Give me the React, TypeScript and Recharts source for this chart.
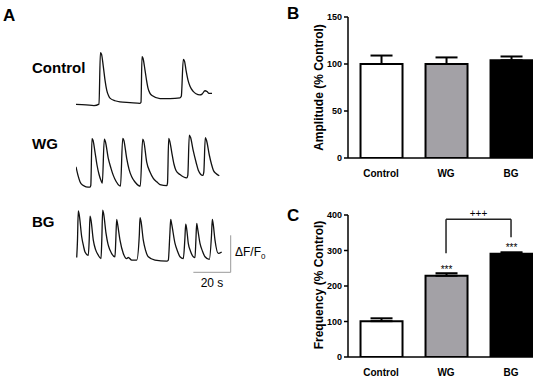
import React from 'react';
import { LineChart, Line, XAxis, YAxis, BarChart, Bar, Cell, ErrorBar, LabelList, ReferenceLine } from 'recharts';

const FONT = '"Liberation Sans", Arial, Helvetica, sans-serif';

// Panel A traces: time (s) vs ΔF/F0 (scale bar = 20 s, 1 ΔF/F0)
const controlTrace = [
  { t: 0, v: 0.02 }, { t: 5.36, v: 0.01 }, { t: 9.64, v: -0.01 }, { t: 12.32, v: 0.03 },
  { t: 13.07, v: 1.42 }, { t: 13.66, v: 1.38 }, { t: 14.62, v: 1.05 }, { t: 15.54, v: 0.68 },
  { t: 16.45, v: 0.41 }, { t: 17.41, v: 0.26 }, { t: 18.21, v: 0.19 }, { t: 20.89, v: 0.12 },
  { t: 23.57, v: 0.09 }, { t: 28.93, v: 0.07 }, { t: 34.29, v: 0.05 }, { t: 34.82, v: 0.08 },
  { t: 35.36, v: 1.31 }, { t: 35.89, v: 1.27 }, { t: 36.96, v: 0.95 }, { t: 37.77, v: 0.68 },
  { t: 38.57, v: 0.46 }, { t: 39.64, v: 0.32 }, { t: 40.71, v: 0.26 }, { t: 45.0, v: 0.18 },
  { t: 50.36, v: 0.18 }, { t: 55.71, v: 0.2 }, { t: 56.41, v: 0.24 }, { t: 57.48, v: 1.24 },
  { t: 58.13, v: 1.19 }, { t: 58.93, v: 0.95 }, { t: 60.0, v: 0.68 }, { t: 61.07, v: 0.51 },
  { t: 62.68, v: 0.38 }, { t: 64.29, v: 0.31 }, { t: 66.43, v: 0.28 }, { t: 67.5, v: 0.3 },
  { t: 69.11, v: 0.39 }, { t: 70.18, v: 0.37 }, { t: 71.25, v: 0.32 }, { t: 72.86, v: 0.32 },
];

const wgTrace = [
  { t: 0, v: 0.55 }, { t: 1.07, v: 0.32 }, { t: 2.14, v: 0.15 }, { t: 3.75, v: 0.05 },
  { t: 5.36, v: 0.01 }, { t: 7.5, v: 0 }, { t: 7.93, v: 0.05 }, { t: 8.57, v: 1.31 },
  { t: 9.11, v: 1.27 }, { t: 10.18, v: 0.95 }, { t: 11.25, v: 0.6 }, { t: 12.32, v: 0.35 },
  { t: 13.39, v: 0.18 }, { t: 14.09, v: 0.11 }, { t: 15.16, v: 1.3 }, { t: 15.7, v: 1.24 },
  { t: 17.3, v: 0.78 }, { t: 18.75, v: 0.51 }, { t: 19.98, v: 0.32 }, { t: 21.43, v: 0.16 },
  { t: 23.3, v: 0.04 }, { t: 23.84, v: 0.03 }, { t: 25.02, v: 1.32 }, { t: 25.61, v: 1.27 },
  { t: 27.16, v: 0.78 }, { t: 28.39, v: 0.49 }, { t: 29.84, v: 0.28 }, { t: 31.61, v: 0.14 },
  { t: 33.38, v: 0.05 }, { t: 34.45, v: 0.03 }, { t: 35.73, v: 1.3 }, { t: 36.32, v: 1.24 },
  { t: 37.88, v: 0.68 }, { t: 39.64, v: 0.41 }, { t: 41.41, v: 0.24 }, { t: 43.39, v: 0.14 },
  { t: 45.0, v: 0.07 }, { t: 48.59, v: 0.04 }, { t: 49.02, v: 0.11 }, { t: 49.66, v: 1.32 },
  { t: 50.25, v: 1.24 }, { t: 51.27, v: 0.95 }, { t: 52.5, v: 0.62 }, { t: 53.57, v: 0.45 },
  { t: 55.71, v: 0.34 }, { t: 59.3, v: 0.25 }, { t: 59.89, v: 0.32 }, { t: 60.7, v: 1.41 },
  { t: 61.34, v: 1.35 }, { t: 62.84, v: 0.98 }, { t: 64.29, v: 0.68 }, { t: 65.52, v: 0.46 },
  { t: 67.88, v: 0.32 }, { t: 68.47, v: 0.41 }, { t: 69.27, v: 1.34 }, { t: 69.91, v: 1.27 },
  { t: 71.41, v: 0.87 }, { t: 72.59, v: 0.62 }, { t: 73.57, v: 0.46 }, { t: 75.0, v: 0.37 },
  { t: 76.77, v: 0.31 },
];

const bgTrace = [
  { t: 0.38, v: 0.1 }, { t: 0.8, v: 0.57 }, { t: 1.23, v: 1.36 }, { t: 1.77, v: 1.24 },
  { t: 3.05, v: 0.66 }, { t: 4.02, v: 0.41 }, { t: 4.82, v: 0.25 }, { t: 6.59, v: 0.16 },
  { t: 7.07, v: 0.57 }, { t: 7.5, v: 1.22 }, { t: 8.04, v: 1.11 }, { t: 9.27, v: 0.57 },
  { t: 10.45, v: 0.32 }, { t: 11.95, v: 0.16 }, { t: 13.39, v: 0.07 }, { t: 13.82, v: 0.57 },
  { t: 14.3, v: 1.38 }, { t: 14.84, v: 1.27 }, { t: 16.07, v: 0.76 }, { t: 17.14, v: 0.46 },
  { t: 18.21, v: 0.3 }, { t: 20.89, v: 0.12 }, { t: 21.32, v: 0.57 }, { t: 21.8, v: 1.13 },
  { t: 22.29, v: 1.0 }, { t: 23.57, v: 0.57 }, { t: 25.34, v: 0.21 }, { t: 27.16, v: 0.07 },
  { t: 28.02, v: 0.1 }, { t: 29.84, v: 0.03 }, { t: 32.52, v: 0.03 }, { t: 33.91, v: 0.7 },
  { t: 34.29, v: 1.18 }, { t: 34.82, v: 1.08 }, { t: 36.05, v: 0.57 }, { t: 37.23, v: 0.3 },
  { t: 38.73, v: 0.12 }, { t: 42.32, v: 0.03 }, { t: 48.59, v: 0 }, { t: 49.45, v: 0.03 },
  { t: 50.25, v: 0.7 }, { t: 50.73, v: 1.13 }, { t: 51.27, v: 1.0 }, { t: 53.04, v: 0.48 },
  { t: 54.38, v: 0.27 }, { t: 55.71, v: 0.12 }, { t: 57.48, v: 0.07 }, { t: 58.29, v: 0.57 },
  { t: 58.77, v: 1.0 }, { t: 59.25, v: 0.89 }, { t: 60.16, v: 0.48 }, { t: 61.34, v: 0.27 },
  { t: 62.84, v: 0.12 }, { t: 63.75, v: 0.1 }, { t: 64.23, v: 0.57 }, { t: 64.66, v: 1.02 },
  { t: 65.14, v: 0.89 }, { t: 66.43, v: 0.48 }, { t: 67.77, v: 0.27 }, { t: 69.11, v: 0.12 },
  { t: 71.41, v: 0.05 }, { t: 72.59, v: 0.7 }, { t: 73.02, v: 1.13 }, { t: 73.5, v: 1.0 },
  { t: 74.46, v: 0.57 }, { t: 76.23, v: 0.21 }, { t: 78.04, v: 0.25 },
];

const traceNames = ['Control', 'WG', 'BG'];
const scaleBarSeconds = 20;
const scaleBarDff = 1;

// Panels B and C
const categories = ['Control', 'WG', 'BG'];
const amplitudeMean = [100, 100, 104];
const amplitudeSem = [9, 7, 4];
const frequencyMean = [101, 229, 291];
const frequencySem = [8, 7, 4];
const frequencySig = ['', '***', '***'];
const barFills = ['#ffffff', '#a3a1a6', '#000000'];
const amplitudeTicks = [0, 50, 100, 150];
const frequencyTicks = [0, 100, 200, 300, 400];
const bracketLabel = '+++';

const ampData = categories.map((c, i) => ({ idx: i, name: c, mean: amplitudeMean[i], err: [0, amplitudeSem[i]] }));
const freqData = categories.map((c, i) => ({ idx: i, name: c, mean: frequencyMean[i], err: [0, frequencySem[i]], sig: frequencySig[i] }));

const TRACE_W = 168;
const TRACE_H = 74;

function Trace({ data, top, children }: { data: any[]; top: number; children?: React.ReactNode }) {
  return (
    <div style={{ position: 'absolute', left: 76, top, width: TRACE_W, height: TRACE_H }}>
      <LineChart width={TRACE_W} height={TRACE_H} data={data} margin={{ top: 0, right: 0, bottom: 0, left: 0 }}>
        <XAxis type="number" dataKey="t" domain={[0, 90]} hide allowDataOverflow />
        <YAxis type="number" domain={[-0.4, 1.6]} hide allowDataOverflow />
        <Line dataKey="v" type="monotone" stroke="#111" strokeWidth={1.3} dot={false} isAnimationActive={false} />
        {children}
      </LineChart>
    </div>
  );
}

const tickStyle = { fill: '#000', fontSize: 9, fontWeight: 'bold' as const, fontFamily: FONT };
const xTickStyle = { fill: '#000', fontSize: 10, fontWeight: 'bold' as const, fontFamily: FONT };
const axisLine = { stroke: '#000', strokeWidth: 1.5 };

function BarPanel({ data, top, marginTop, marginBottom, domain, ticks, withSig }: any) {
  return (
    <div style={{ position: 'absolute', left: 290, top, width: 260, height: 190 }}>
      <BarChart width={260} height={190} data={data} margin={{ top: marginTop, right: 17, bottom: marginBottom, left: 18 }}>
        <XAxis
          type="number"
          dataKey="idx"
          domain={[-0.508, 2.338]}
          ticks={[0, 1, 2]}
          allowDataOverflow
          tickFormatter={(i: number) => categories[i]}
          axisLine={axisLine}
          tickLine={false}
          tick={xTickStyle}
          tickMargin={6}
          height={20}
        />
        <YAxis
          type="number"
          domain={domain}
          ticks={ticks}
          allowDataOverflow
          width={40}
          axisLine={axisLine}
          tickLine={{ stroke: '#000', strokeWidth: 1.5 }}
          tickSize={4}
          tickMargin={2}
          tick={tickStyle}
        />
        <Bar dataKey="mean" barSize={42} stroke="#000" strokeWidth={2} isAnimationActive={false}>
          {data.map((d: any, i: number) => (
            <Cell key={d.name} fill={barFills[i]} />
          ))}
          <ErrorBar dataKey="err" width={11} stroke="#000" strokeWidth={2} direction="y" />
          {withSig && (
            <LabelList dataKey="sig" position="top" offset={3} style={{ fontSize: 10, fontFamily: FONT, fill: '#000' }} />
          )}
        </Bar>
        {withSig && (
          <ReferenceLine segment={[{ x: 1, y: 292 }, { x: 1, y: 388 }]} stroke="#222" strokeWidth={1.5} />
        )}
        {withSig && (
          <ReferenceLine
            segment={[{ x: 1, y: 388 }, { x: 2, y: 388 }]}
            stroke="#222"
            strokeWidth={1.5}
            label={{ value: bracketLabel, position: 'top', offset: 2, fontSize: 10, fontFamily: FONT, fill: '#000' }}
          />
        )}
        {withSig && (
          <ReferenceLine segment={[{ x: 2, y: 388 }, { x: 2, y: 337 }]} stroke="#222" strokeWidth={1.5} />
        )}
      </BarChart>
    </div>
  );
}

export default function App() {
  const sbStart = 82.87 - scaleBarSeconds;
  return (
    <div style={{ position: 'absolute', left: 0, top: 0, width: 550, height: 380, background: '#fff', fontFamily: FONT, overflow: 'hidden' }}>
      <Trace data={controlTrace} top={45.8} />
      <Trace data={wgTrace} top={127.8} />
      <Trace data={bgTrace} top={201.8}>
        <ReferenceLine segment={[{ x: sbStart, y: -0.3 }, { x: 82.87, y: -0.3 }]} stroke="#999" strokeWidth={1} />
        <ReferenceLine segment={[{ x: 82.87, y: -0.3 }, { x: 82.87, y: -0.3 + scaleBarDff }]} stroke="#999" strokeWidth={1} />
      </Trace>

      <BarPanel data={ampData} top={0} marginTop={17} marginBottom={12} domain={[0, 150]} ticks={amplitudeTicks} withSig={false} />
      <BarPanel data={freqData} top={190} marginTop={25} marginBottom={3} domain={[0, 400]} ticks={frequencyTicks} withSig={true} />

      <svg width={550} height={380} style={{ position: 'absolute', left: 0, top: 0, pointerEvents: 'none' }}>
        <g fontFamily={FONT} fill="#000">
          <text x={3} y={20.5} fontSize={17} fontWeight="bold">A</text>
          <text x={287} y={18.5} fontSize={17} fontWeight="bold">B</text>
          <text x={287} y={220.5} fontSize={17} fontWeight="bold">C</text>
          <text x={32} y={72.7} fontSize={15} fontWeight="bold">{traceNames[0]}</text>
          <text x={32} y={149} fontSize={15} fontWeight="bold">{traceNames[1]}</text>
          <text x={32} y={226.7} fontSize={15} fontWeight="bold">{traceNames[2]}</text>
          <text x={235} y={256} fontSize={12}>
            ΔF/F<tspan fontSize={8} dy={2.5}>0</tspan>
          </text>
          <text x={212} y={287} fontSize={12} textAnchor="middle">{`${scaleBarSeconds} s`}</text>
          <text x={322.5} y={87.5} fontSize={12} fontWeight="bold" textAnchor="middle" transform="rotate(-90 322.5 87.5)">
            Amplitude (% Control)
          </text>
          <text x={322.5} y={285} fontSize={12} fontWeight="bold" textAnchor="middle" transform="rotate(-90 322.5 285)">
            Frequency (% Control)
          </text>
        </g>
      </svg>
    </div>
  );
}
